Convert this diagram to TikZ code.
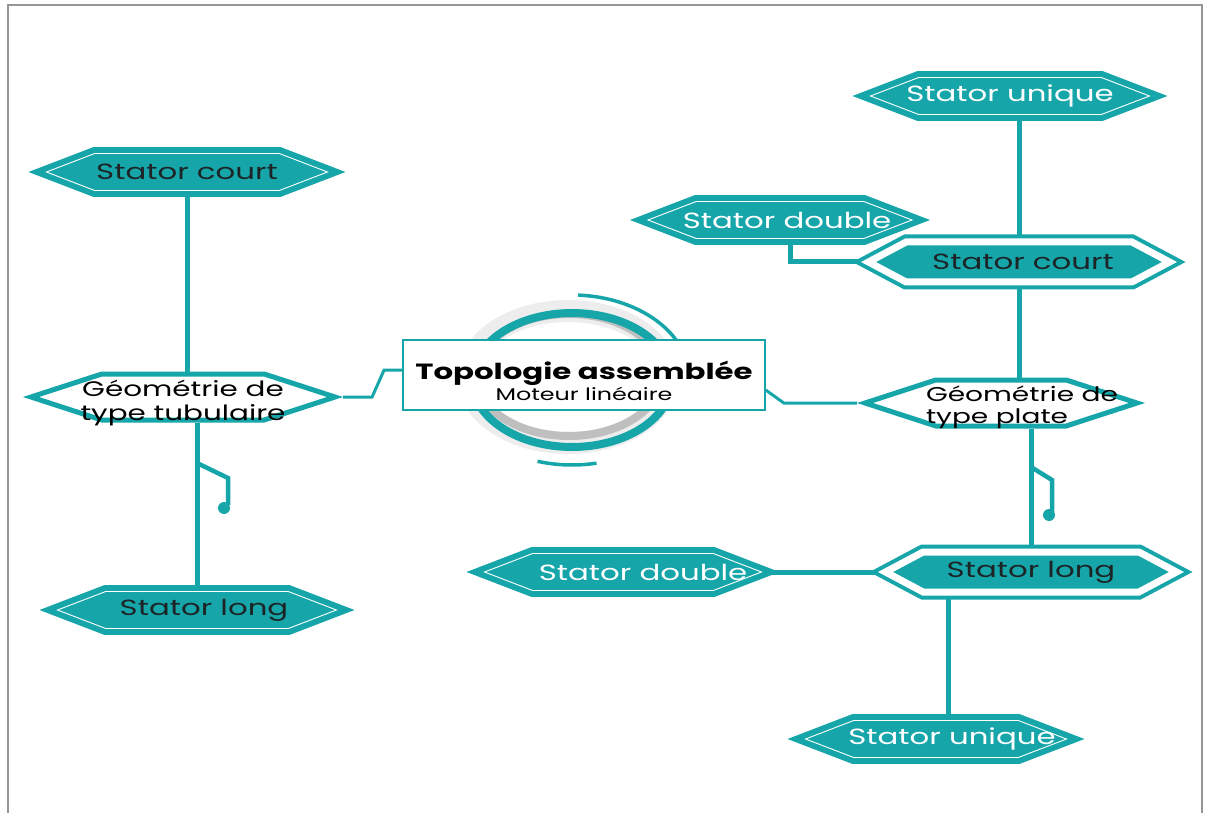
\documentclass[tikz,border=0pt]{standalone}
\usepackage{fontspec}
\setmainfont{Poppins}[FakeStretch=1.4]
\usetikzlibrary{shapes.symbols,backgrounds}

\definecolor{tealc}{RGB}{22,166,170}
\definecolor{ink}{RGB}{28,36,38}
\definecolor{cadre}{RGB}{150,150,150}

\newcommand\hexfont{\fontsize{22}{24}\selectfont}

\tikzset{
	hexa/.style={signal, signal to=east and west, inner sep=0pt},
	plein/.style={hexa, signal pointer angle=42, minimum height=37pt, fill=tealc, draw=tealc, double=white, double distance=0.9pt, line width=6pt},
	creux/.style={hexa, signal pointer angle=36, minimum height=46pt, fill=white, draw=tealc, line width=5pt},
	duo/.style={hexa, signal pointer angle=56, minimum height=40pt, fill=tealc, draw=tealc, double=white, double distance=7pt, line width=4pt},
	blanc/.style={text=white, font=\hexfont},
	noir/.style={text=ink, font=\hexfont},
	lien/.style={draw=tealc, line width=5pt},
	fil/.style={draw=tealc, line width=3pt},
}

\begin{document}
\begin{tikzpicture}[x=1pt, y=-1pt]
	\useasboundingbox (0,0) rectangle (1208,813);

	% draw frame
	\draw[cadre, line width=2pt] (8,813) -- (8,5) -- (1202,5) -- (1202,813);

	% draw ring behind the title
	\coordinate (ring) at (572,380);
	\draw[black!7, line width=22pt] ([shift={(-4,-3)}]ring) ellipse[x radius=100, y radius=66];
	\draw[black!25, line width=8pt] ([shift={(-3,-5)}]ring) ellipse[x radius=93, y radius=61];
	\draw[tealc, line width=8pt] (ring) ellipse[x radius=100, y radius=67];
	\draw[tealc, line width=3.5pt] (ring) ++(-87:118 and 85) arc[start angle=-87, end angle=-25, x radius=118, y radius=85];
	\draw[tealc, line width=3.5pt] (ring) ++(107:118 and 85) arc[start angle=107, end angle=78, x radius=118, y radius=85];

	% draw title
	\node[draw=tealc, line width=1.5pt, fill=white, minimum width=362pt, minimum height=70pt,
		label={[yshift=-6pt, align=center]center:{\fontsize{22}{24}\selectfont\bfseries Topologie assemblée}\\{\fontsize{17}{18}\selectfont Moteur linéaire}}] (topo) at (584,375) {};

	% draw left branch
	\node[plein, minimum width=281pt, label={[noir]center:Stator court}] (courtG) at (187,172) {};
	\node[creux, minimum width=304pt, label={[yshift=-6pt, align=center, font=\fontsize{21}{24}\selectfont]center:Géométrie de\\type tubulaire}] (tubeG) at (183,397) {};
	\node[plein, minimum width=279pt, label={[noir, xshift=7pt]center:Stator long}] (longG) at (197,610) {};

	% draw right branch
	\node[plein, minimum width=279pt, label={[blanc]center:Stator unique}] (uniqueH) at (1010,96) {};
	\node[plein, minimum width=264pt, label={[blanc, xshift=7pt]center:Stator double}] (doubleH) at (780,220) {};
	\node[duo, minimum width=301pt, label={[noir, xshift=4pt]center:Stator court}] (courtD) at (1019,262) {};
	\node[creux, minimum width=272pt, label={[xshift=21pt, yshift=-4pt, align=left, font=\fontsize{20}{22}\selectfont]center:Géométrie de\\type plate}] (plateD) at (1001,403) {};
	\node[duo, minimum width=291pt, label={[noir]center:Stator long}] (longD) at (1031,572) {};
	\node[plein, minimum width=277pt, label={[blanc, xshift=20pt]center:Stator double}] (doubleB) at (623,572) {};
	\node[plein, minimum width=261pt, label={[blanc, xshift=16pt]center:Stator unique}] (uniqueB) at (936,739) {};

	% draw edges
	\begin{scope}[on background layer]
		\draw[lien] (courtG.south) -- (courtG.south |- tubeG.north);
		\draw[lien] (longG.north |- tubeG.south) -- (longG.north);
		\draw[lien] (courtD.north) -- (courtD.north |- uniqueH.south);
		\draw[lien] (courtD.south) -- (courtD.south |- plateD.north);
		\draw[lien] (longD.north |- plateD.south) -- (longD.north);
		\draw[lien] ([xshift=10pt]doubleH.south) |- (courtD.west);
		\draw[lien] (doubleB.east) -- (longD.west);
		\draw[lien] ([xshift=12pt]uniqueB.north) -- ([xshift=12pt]uniqueB.north |- longD.south);
		\draw[fil] (tubeG.east) -- ++(29,0) -- ++(12,-27) -- ([yshift=5pt]topo.west);
		\draw[fil] ([yshift=-15pt]topo.east) -- ++(18,13) -- (plateD.west);
	\end{scope}

	% draw hooks
	\coordinate (crochetG) at (197,463);
	\draw[lien, line width=4.5pt] (crochetG) -- ++(31,15) -- ++(0,27);
	\fill[tealc] (crochetG) ++(27,45) circle (6);
	\coordinate (crochetD) at (1031,467);
	\draw[lien, line width=4.5pt] (crochetD) -- ++(21,13) -- ++(0,32);
	\fill[tealc] (crochetD) ++(18,48) circle (6);

\end{tikzpicture}
\end{document}
